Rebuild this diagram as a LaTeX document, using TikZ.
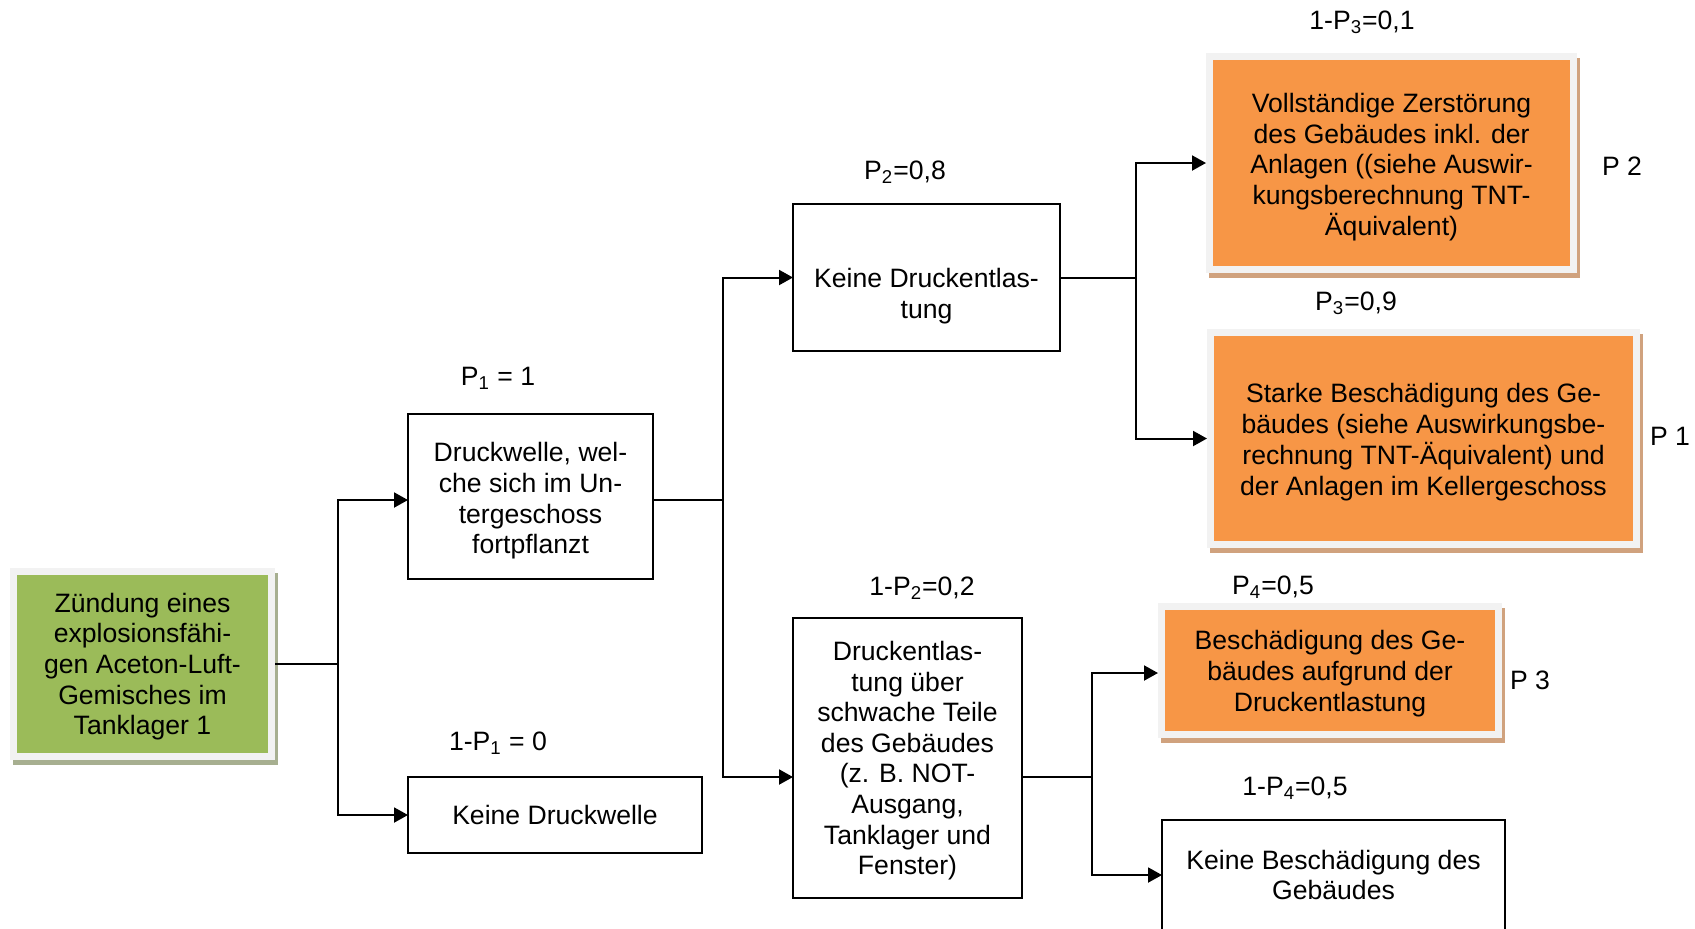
\documentclass[tikz,border=0pt]{standalone}
\usepackage{fontspec}
\setmainfont{Liberation Sans}
\usetikzlibrary{arrows.meta,calc,backgrounds}

\definecolor{leafgreen}{HTML}{9BBB59}
\definecolor{pumpkin}{HTML}{F79646}
\definecolor{rim}{HTML}{F2F2F2}
\definecolor{greenshade}{HTML}{A7AF90}
\definecolor{orangeshade}{HTML}{D0A27E}

% centred lines of box text; #1 = height of the first baseline above the box centre
\newcommand{\boxlines}[2]{\raisebox{#1}[0pt][0pt]{\begin{tabular}[t]{@{}c@{}}#2\end{tabular}}}

\begin{document}
\begin{tikzpicture}[
    x=0.5pt, y=-0.5pt,
    font=\fontsize{13.3}{15.3}\selectfont,
    plainbox/.style={draw=black, line width=0.9pt, fill=white,
                     inner sep=0pt, outer sep=0pt, anchor=north west},
    tintbox/.style={draw=rim, line width=3.5pt, inner sep=0pt, anchor=north west},
    conn/.style={line width=1pt},
    arr/.style={conn, -{Triangle[length=7pt,width=7.5pt]}},
    plabel/.style={inner sep=0pt}
  ]
  \useasboundingbox (0,0) rectangle (1695,928);
  \clip (0,0) rectangle (1695,928);

  % boxes
  \node[tintbox, fill=leafgreen, minimum width=129pt, minimum height=92.5pt] (g) at (10,568)
    {\boxlines{25.85pt}{Zündung eines\\explosionsfähi-\\gen Aceton-Luft-\\Gemisches im\\Tanklager 1}};

  \node[plainbox, minimum width=122.5pt, minimum height=82.5pt] (dw) at (408,414)
    {\boxlines{17.35pt}{Druckwelle, wel-\\che sich im Un-\\tergeschoss\\fortpflanzt}};
  \node[plainbox, minimum width=147pt, minimum height=38pt] (kdw) at (408,777)
    {\boxlines{-4.8pt}{Keine Druckwelle}};

  \node[plainbox, minimum width=133.5pt, minimum height=73.5pt] (kde) at (793,204)
    {\boxlines{-4.95pt}{Keine Druckentlas-\\tung}};
  \node[plainbox, minimum width=114.5pt, minimum height=140pt] (deu) at (793,618)
    {\boxlines{48.8pt}{Druckentlas-\\tung über\\schwache Teile\\des Gebäudes\\(z. B. NOT-\\Ausgang,\\Tanklager und\\Fenster)}};

  \node[tintbox, fill=pumpkin, minimum width=182pt, minimum height=106.5pt] (o1) at (1206,53)
    {\boxlines{25.3pt}{Vollständige Zerstörung\\des Gebäudes inkl. der\\Anlagen ((siehe Auswir-\\kungsberechnung TNT-\\Äquivalent)}};
  \node[tintbox, fill=pumpkin, minimum width=213pt, minimum height=106pt] (o2) at (1207,329)
    {\boxlines{17.95pt}{Starke Beschädigung des Ge-\\bäudes (siehe Auswirkungsbe-\\rechnung TNT-Äquivalent) und\\der Anlagen im Kellergeschoss}};
  \node[tintbox, fill=pumpkin, minimum width=168.5pt, minimum height=64pt] (o3) at (1158,603)
    {\boxlines{10.3pt}{Beschädigung des Ge-\\bäudes aufgrund der\\Druckentlastung}};
  \node[plainbox, minimum width=171.5pt, minimum height=55pt] (kbg) at (1162,820)
    {\boxlines{2.85pt}{Keine Beschädigung des\\Gebäudes}};

  % drop shadows of the tinted boxes
  \begin{pgfonlayer}{background}
    \fill[greenshade] ($(g.south west)+(3,5)$) rectangle ($(g.north east)+(3,5)$);
    \foreach \b in {o1,o2,o3}
      \fill[orangeshade] ($(\b.south west)+(3,5)$) rectangle ($(\b.north east)+(3,5)$);
  \end{pgfonlayer}

  % probability labels
  \node[plabel] (lp1)  at (498,378)  {P\textsubscript{1} = 1};
  \node[plabel] (lq1)  at (498,743)  {1-P\textsubscript{1} = 0};
  \node[plabel] (lp2)  at (905,172)  {P\textsubscript{2}=0,8};
  \node[plabel] (lq2)  at (922,588)  {1-P\textsubscript{2}=0,2};
  \node[plabel] (lq3)  at (1362,22)  {1-P\textsubscript{3}=0,1};
  \node[plabel] (lp3)  at (1356,303) {P\textsubscript{3}=0,9};
  \node[plabel] (lp4)  at (1273,587) {P\textsubscript{4}=0,5};
  \node[plabel] (lq4)  at (1295,788) {1-P\textsubscript{4}=0,5};
  \node[plabel] (rp2)  at (1622,166) {P 2};
  \node[plabel] (rp1)  at (1670,436) {P 1};
  \node[plabel] (rp3)  at (1530,680) {P 3};

  % branch points
  \coordinate (j1) at (338,664);
  \coordinate (j2) at (723,500);
  \coordinate (j3) at (1136,277.5);
  \coordinate (j4) at (1092,777);

  % connectors
  \draw[conn] (g.east) -- (j1);
  \draw[arr] (j1) |- ([yshift=-1.75pt]dw.west);
  \draw[arr] (j1) |- (kdw.west);

  \draw[conn] ([yshift=-1.75pt]dw.east) -- (j2);
  \draw[arr] (j2) |- (kde.west);
  \draw[arr] (j2) |- ([yshift=-9.5pt]deu.west);

  \draw[conn] (kde.east) -- (j3);
  \draw[arr] (j3) |- (o1.west);
  \draw[arr] (j3) |- (o2.west);

  \draw[conn] ([yshift=-9.5pt]deu.east) -- (j4);
  \draw[arr] (j4) |- ([yshift=-1.25pt]o3.west);
  \draw[arr] (j4) |- (kbg.west);
\end{tikzpicture}
\end{document}
